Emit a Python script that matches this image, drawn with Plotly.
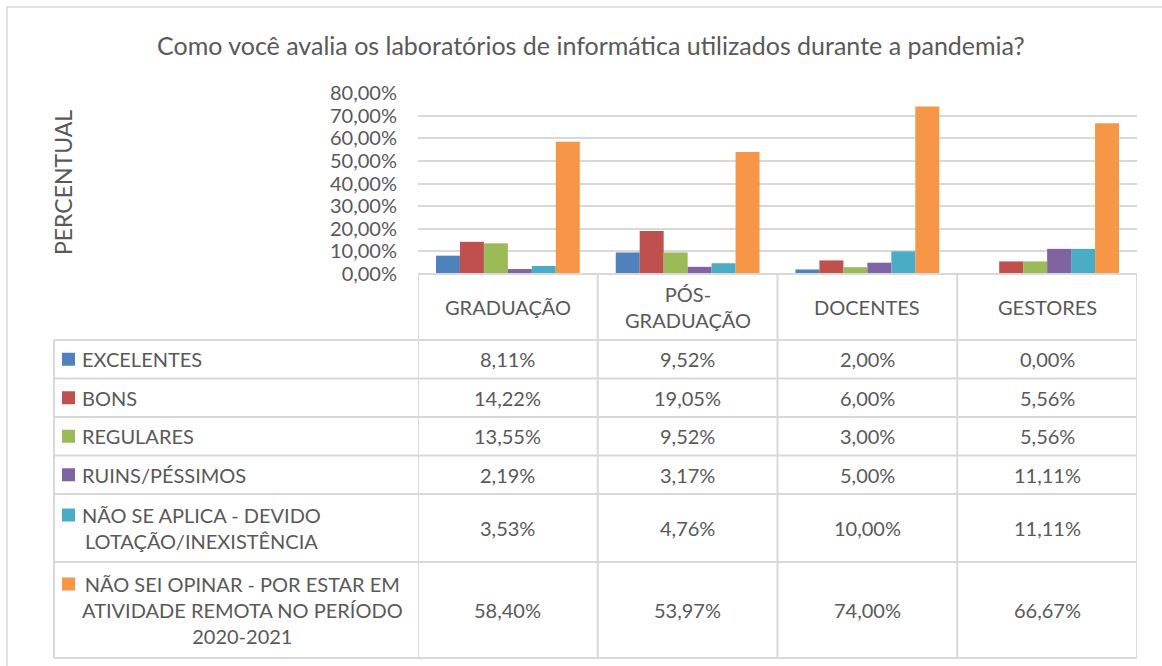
import plotly.graph_objects as go

W, H = 1162, 666

title = "Como você avalia os laboratórios de informática utilizados durante a pandemia?"
groups = ["GRADUAÇÃO", "PÓS-GRADUAÇÃO", "DOCENTES", "GESTORES"]
group_labels = ["GRADUAÇÃO", "PÓS-<br>GRADUAÇÃO", "DOCENTES", "GESTORES"]

series_names = [
    "EXCELENTES",
    "BONS",
    "REGULARES",
    "RUINS/PÉSSIMOS",
    "NÃO SE APLICA - DEVIDO LOTAÇÃO/INEXISTÊNCIA",
    "NÃO SEI OPINAR - POR ESTAR EM ATIVIDADE REMOTA NO PERÍODO 2020-2021",
]
series_labels = [
    "EXCELENTES",
    "BONS",
    "REGULARES",
    "RUINS/PÉSSIMOS",
    "NÃO SE APLICA - DEVIDO<br>LOTAÇÃO/INEXISTÊNCIA",
    "NÃO SEI OPINAR - POR ESTAR EM<br>ATIVIDADE REMOTA NO PERÍODO<br>2020-2021",
]

excelentes = [8.11, 9.52, 2.00, 0.00]
bons = [14.22, 19.05, 6.00, 5.56]
regulares = [13.55, 9.52, 3.00, 5.56]
ruins = [2.19, 3.17, 5.00, 11.11]
nao_aplica = [3.53, 4.76, 10.00, 11.11]
nao_sei = [58.40, 53.97, 74.00, 66.67]
series_values = [excelentes, bons, regulares, ruins, nao_aplica, nao_sei]

colors = ["#4F81BD", "#C0504D", "#9BBB59", "#8064A2", "#4BACC6", "#F79646"]

TXT = "#595959"
GRID = "#D9D9D9"
FONT = "Lato"


def px(x):
    return x / W


def py(y):
    return 1 - y / H


def pct(v):
    return f"{v:.2f}%".replace(".", ",")


# plot area and data-table geometry (pixels)
plot_l, plot_r = 418, 1137
plot_t, plot_b = 93, 274
table_l = 54
row_edges = [340, 378.5, 417, 455.5, 494, 562, 658]
line_h = 26  # plotly line height for 20px text

fig = go.Figure()
for name, vals, col in zip(series_names, series_values, colors):
    fig.add_trace(go.Bar(
        x=groups, y=vals, name=name,
        marker=dict(color=col, line=dict(width=0)),
        showlegend=False,
    ))

shapes = []
annotations = []

# outer chart border
shapes.append(dict(type="rect", xref="paper", yref="paper",
                   x0=px(7), x1=px(1170), y0=py(7), y1=py(700),
                   line=dict(color=GRID, width=1.5)))

# table horizontal lines
shapes.append(dict(type="line", xref="paper", yref="paper",
                   x0=px(plot_l), x1=px(plot_r), y0=py(plot_b), y1=py(plot_b),
                   line=dict(color=GRID, width=2)))
for ry in row_edges:
    shapes.append(dict(type="line", xref="paper", yref="paper",
                       x0=px(table_l), x1=px(plot_r), y0=py(ry), y1=py(ry),
                       line=dict(color=GRID, width=2)))
# table vertical lines
shapes.append(dict(type="line", xref="paper", yref="paper",
                   x0=px(table_l), x1=px(table_l), y0=py(row_edges[0]), y1=py(row_edges[-1]),
                   line=dict(color=GRID, width=2)))
for i in range(len(groups) + 1):
    xb = i - 0.5
    shapes.append(dict(type="line", xref="x", yref="paper",
                       x0=xb, x1=xb, y0=py(plot_b), y1=py(row_edges[-1]),
                       line=dict(color=GRID, width=2)))

# column headers
for i, lab in enumerate(group_labels):
    annotations.append(dict(xref="x", yref="paper", x=i, y=py((plot_b + row_edges[0]) / 2),
                            text=lab, showarrow=False, xanchor="center", yanchor="middle",
                            align="center", font=dict(family=FONT, size=20, color=TXT)))

# rows: legend key, label, values
for r, (lab, vals, col) in enumerate(zip(series_labels, series_values, colors)):
    top, bot = row_edges[r], row_edges[r + 1]
    cy = (top + bot) / 2
    nlines = lab.count("<br>") + 1
    first_y = cy - (nlines - 1) * line_h / 2
    shapes.append(dict(type="rect", xref="paper", yref="paper",
                       x0=px(62), x1=px(75), y0=py(first_y - 6.5), y1=py(first_y + 6.5),
                       fillcolor=col, line=dict(width=0)))
    annotations.append(dict(xref="paper", yref="paper", x=px(80), y=py(cy),
                            text=lab, showarrow=False, xanchor="left", yanchor="middle",
                            align="center", font=dict(family=FONT, size=20, color=TXT)))
    for i, v in enumerate(vals):
        annotations.append(dict(xref="x", yref="paper", x=i, y=py(cy),
                                text=pct(v), showarrow=False, xanchor="center", yanchor="middle",
                                font=dict(family=FONT, size=20, color=TXT)))

# y-axis title
annotations.append(dict(xref="paper", yref="paper", x=px(63), y=py(183),
                        text="PERCENTUAL", showarrow=False, textangle=-90,
                        xanchor="center", yanchor="middle",
                        font=dict(family=FONT, size=23, color=TXT)))

# chart title
annotations.append(dict(xref="paper", yref="paper", x=px(591), y=py(45),
                        text=title, showarrow=False, xanchor="center", yanchor="middle",
                        font=dict(family=FONT, size=25, color=TXT)))

fig.update_layout(
    width=W, height=H,
    margin=dict(l=0, r=0, t=0, b=0, autoexpand=False),
    paper_bgcolor="white", plot_bgcolor="white",
    separators=",.",
    barmode="group", bargap=0.2, bargroupgap=0,
    shapes=shapes, annotations=annotations,
    xaxis=dict(domain=[px(plot_l), px(plot_r)], range=[-0.5, 3.5],
               showticklabels=False, showgrid=False, zeroline=False, showline=False,
               ticks="", automargin=False),
    yaxis=dict(domain=[py(plot_b), py(plot_t)], range=[0, 80], dtick=10,
               tickformat=".2f", ticksuffix="%",
               showgrid=True, gridcolor=GRID, gridwidth=1.5,
               zeroline=False, showline=False, ticks="",
               ticklabelstandoff=20, automargin=False,
               tickfont=dict(family=FONT, size=20, color=TXT)),
)

fig.write_html("out.html")
